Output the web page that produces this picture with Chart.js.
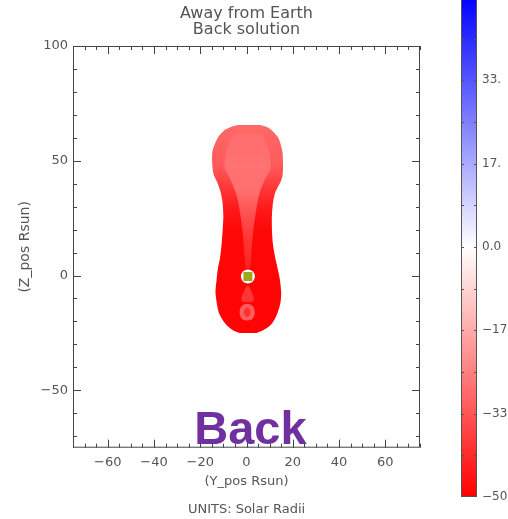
<!DOCTYPE html>
<html>
<head>
<meta charset="utf-8">
<script src="https://cdn.jsdelivr.net/npm/chart.js@4"></script>
<style>
  body { margin: 0; background: #fff; overflow: hidden; }
  #wrap { position: relative; width: 508px; height: 519px; }
  #main { position: absolute; left: 0; top: 0; }
  #cbar { position: absolute; left: 440px; top: -20px; }
</style>
</head>
<body>
<div id="wrap">
  <canvas id="main" width="508" height="519" style="width:508px;height:519px"></canvas>
  <canvas id="cbar" width="68" height="539" style="width:68px;height:539px"></canvas>
</div>
<script>
const titleLines = ['Away from Earth', 'Back solution'];
const xTitle = '(Y_pos Rsun)';
const yTitle = '(Z_pos Rsun)';
const unitsLabel = 'UNITS: Solar Radii';
const backLabel = 'Back';

const xTickValues = [-60, -40, -20, 0, 20, 40, 60];
const yTickValues = [-50, 0, 50, 100];
const cbTickValues = [-50, -33.33, -16.67, 0, 16.67, 33.33, 50];
const cbTickLabels = ['\u221250', '\u221233', '\u221217', '0.0', '17.', '33.', '50.'];

// edge of the red region (Z in Rsun, left / right edge in Y)
const shapeZ     = [65.6, 64.7, 63.0, 59.9, 54.2, 48.1, 43.7, 40.8, 36.4, 32.1, 26.2, 19.7, 13.1, 7.3, 2.9, -1.5, -7.3, -11.7, -16.1, -19.7, -21.9, -24.1, -25.0];
const shapeLeft  = [-3.9, -6.8, -9.9, -12.5, -14.7, -14.8, -14.1, -12.7, -11.2, -10.4, -10.0, -10.3, -10.8, -11.5, -12.4, -12.9, -13.4, -12.9, -12.0, -10.1, -8.3, -5.5, -3.0];
const shapeRight = [6.0, 8.8, 11.2, 13.8, 15.5, 15.8, 15.6, 14.7, 12.5, 11.5, 11.0, 11.0, 11.5, 12.5, 13.5, 14.4, 15.0, 14.7, 13.5, 11.8, 10.1, 6.8, 4.5];

// lighter streak running down from the bulb to the sun
const tailZ     = [62, 55, 47, 42, 37, 32, 26, 20, 14, 8, 3];
const tailLeft  = [-5.5, -8.5, -9.5, -7.0, -5.0, -3.6, -2.6, -1.8, -1.2, -0.8, -0.4];
const tailRight = [6.5, 9.5, 10.5, 8.0, 6.0, 4.8, 3.8, 3.0, 2.4, 2.0, 1.6];

// small features below the sun
const bellZ     = [-4.5, -6.5, -8.5, -10.5, -11.5];
const bellLeft  = [0.0, -0.9, -1.8, -2.2, -1.5];
const bellRight = [1.0, 1.9, 2.8, 3.2, 2.5];
const ovalZ     = [-12.2, -13.0, -14.3, -16.0, -17.7, -19.0, -19.7];
const ovalLeft  = [0.3, -1.8, -2.7, -3.0, -2.7, -1.8, 0.3];
const ovalRight = [0.3, 2.4, 3.3, 3.6, 3.3, 2.4, 0.3];
const coreZ     = [-13.8, -14.8, -16.0, -17.2, -18.2];
const coreLeft  = [0.3, -0.8, -1.1, -0.8, 0.3];
const coreRight = [0.3, 1.4, 1.7, 1.4, 0.3];

const sunY = [0.6];
const sunZ = [-0.4];

const pts = (zs, ys) => zs.map((z, i) => ({ x: ys[i], y: z }));

function vGradient(chart, stops) {
  const { ctx, chartArea, scales } = chart;
  if (!chartArea) return stops[stops.length - 1][1];
  const y0 = scales.y.getPixelForValue(stops[0][0]);
  const y1 = scales.y.getPixelForValue(stops[stops.length - 1][0]);
  const g = ctx.createLinearGradient(0, y0, 0, y1);
  stops.forEach(([z, c]) => g.addColorStop((scales.y.getPixelForValue(z) - y0) / (y1 - y0), c));
  return g;
}

const shapeStops = [[66, 'rgb(255,105,105)'], [48, 'rgb(255,90,90)'], [38, 'rgb(255,55,55)'], [28, 'rgb(255,22,22)'], [20, 'rgb(255,8,8)'], [-25, 'rgb(255,4,4)']];
const tailStops = [[62, 'rgba(255,150,150,0.15)'], [48, 'rgba(255,160,160,0.35)'], [38, 'rgba(255,160,160,0.55)'], [25, 'rgba(255,150,150,0.45)'], [12, 'rgba(255,140,140,0.3)'], [3, 'rgba(255,140,140,0.2)']];

const edge = (zs, ys, extra) => Object.assign({
  data: pts(zs, ys), borderColor: 'rgba(0,0,0,0)', borderWidth: 0,
  pointRadius: 0, fill: false, tension: 0.25
}, extra);

const textColor = '#555';
const font13 = { family: 'DejaVu Sans', size: 13 };

const boxTicks = {
  id: 'boxTicks',
  afterDatasetsDraw(chart) {
    const { ctx, chartArea: a, scales: { x, y } } = chart;
    ctx.save();
    ctx.strokeStyle = '#444';
    ctx.lineWidth = 1;
    ctx.strokeRect(a.left + 0.5, a.top + 0.5, a.right - a.left - 1, a.bottom - a.top - 1);
    ctx.beginPath();
    for (let v = -75; v <= 75; v += 5) {
      const len = xTickValues.includes(v) ? 8 : 4;
      const px = Math.round(x.getPixelForValue(v)) + 0.5;
      ctx.moveTo(px, a.bottom); ctx.lineTo(px, a.bottom - len);
      ctx.moveTo(px, a.top); ctx.lineTo(px, a.top + len);
    }
    for (let v = -70; v <= 100; v += 10) {
      const len = yTickValues.includes(v) ? 8 : 4;
      const py = Math.round(y.getPixelForValue(v)) + 0.5;
      ctx.moveTo(a.left, py); ctx.lineTo(a.left + len, py);
      ctx.moveTo(a.right, py); ctx.lineTo(a.right - len, py);
    }
    ctx.stroke();
    // big label inside the plot
    ctx.fillStyle = '#7030a0';
    ctx.font = 'bold 47px "Liberation Sans", Arial, sans-serif';
    ctx.textAlign = 'center';
    ctx.textBaseline = 'alphabetic';
    ctx.fillText(backLabel, x.getPixelForValue(1.7), y.getPixelForValue(-73.5));
    ctx.restore();
  }
};

new Chart(document.getElementById('main'), {
  type: 'line',
  data: {
    datasets: [
      edge(shapeZ, shapeLeft, { order: 10 }),
      edge(shapeZ, shapeRight, { order: 10, fill: '-1', backgroundColor: c => vGradient(c.chart, shapeStops) }),
      edge(tailZ, tailLeft, { order: 8 }),
      edge(tailZ, tailRight, { order: 8, fill: '-1', backgroundColor: c => vGradient(c.chart, tailStops) }),
      edge(bellZ, bellLeft, { order: 7 }),
      edge(bellZ, bellRight, { order: 7, fill: '-1', backgroundColor: 'rgba(255,140,140,0.35)' }),
      edge(ovalZ, ovalLeft, { order: 6 }),
      edge(ovalZ, ovalRight, { order: 6, fill: '-1', backgroundColor: 'rgba(255,140,140,0.65)' }),
      edge(coreZ, coreLeft, { order: 5 }),
      edge(coreZ, coreRight, { order: 5, fill: '-1', backgroundColor: 'rgba(255,40,40,0.85)' }),
      { data: pts(sunZ, sunY), showLine: false, pointRadius: 7, pointBackgroundColor: '#fff', pointBorderWidth: 0, order: 2 },
      { data: pts(sunZ, sunY), showLine: false, pointStyle: 'rect', pointRadius: 6.4, pointBackgroundColor: '#a0a820', pointBorderWidth: 0, order: 1 }
    ]
  },
  options: {
    responsive: false,
    animation: false,
    indexAxis: 'y',
    layout: { padding: { left: 0, right: 88, top: 0, bottom: 0 } },
    plugins: {
      legend: { display: false },
      tooltip: { enabled: false },
      title: {
        display: true, text: titleLines, fullSize: false, color: textColor,
        font: { family: 'DejaVu Sans', size: 16, weight: 'normal', lineHeight: 1.0 },
        padding: { top: 6, bottom: 8 }
      },
      subtitle: {
        display: true, text: unitsLabel, position: 'bottom', fullSize: false, color: textColor,
        font: { family: 'DejaVu Sans', size: 13, weight: 'normal', lineHeight: 1.1 },
        padding: { top: 5, bottom: 2 }
      }
    },
    scales: {
      x: {
        type: 'linear', min: -75, max: 75,
        grid: { display: false, drawTicks: false },
        border: { display: false },
        afterBuildTicks: s => { s.ticks = xTickValues.map(v => ({ value: v })); },
        afterFit: s => { s.height = 50; },
        ticks: { autoSkip: false, maxRotation: 0, padding: 7, color: textColor, font: font13,
          callback: v => String(v).replace('-', '\u2212') },
        title: { display: true, text: xTitle, color: textColor, font: font13, padding: { top: 0, bottom: 8 } }
      },
      y: {
        type: 'linear', min: -75, max: 100,
        grid: { display: false, drawTicks: false },
        border: { display: false },
        afterBuildTicks: s => { s.ticks = yTickValues.map(v => ({ value: v })); },
        afterFit: s => { s.width = 73; },
        ticks: { autoSkip: false, padding: 5, color: textColor, font: font13,
          callback: v => String(v).replace('-', '\u2212') },
        title: { display: true, text: yTitle, color: textColor, font: { family: 'DejaVu Sans', size: 14 }, padding: { top: 17, bottom: 0 } }
      }
    }
  },
  plugins: [boxTicks]
});

// colour bar
const cbStops = [[-50, 'rgb(255,0,0)'], [0, 'rgb(255,255,255)'], [50, 'rgb(0,0,255)']];

const cbTicks = {
  id: 'cbTicks',
  afterDatasetsDraw(chart) {
    const { ctx, chartArea: a, scales: { y } } = chart;
    ctx.save();
    ctx.strokeStyle = '#555';
    ctx.lineWidth = 1;
    ctx.strokeRect(a.left + 0.5, a.top + 0.5, a.right - a.left - 1, a.bottom - a.top - 1);
    ctx.beginPath();
    for (let i = 1; i < 12; i++) {
      const py = Math.round(y.getPixelForValue(-50 + i * 100 / 12)) + 0.5;
      ctx.moveTo(a.left, py); ctx.lineTo(a.left + 3, py);
      ctx.moveTo(a.right, py); ctx.lineTo(a.right - 3, py);
    }
    ctx.stroke();
    ctx.restore();
  }
};

new Chart(document.getElementById('cbar'), {
  type: 'bar',
  data: {
    labels: ['c'],
    datasets: [{
      data: [[-50, 50]],
      barPercentage: 1, categoryPercentage: 1, borderWidth: 0,
      backgroundColor: c => {
        const { ctx, chartArea, scales } = c.chart;
        if (!chartArea) return '#fff';
        const y0 = scales.y.getPixelForValue(-50), y1 = scales.y.getPixelForValue(50);
        const g = ctx.createLinearGradient(0, y0, 0, y1);
        cbStops.forEach(([v, col]) => g.addColorStop((scales.y.getPixelForValue(v) - y0) / (y1 - y0), col));
        return g;
      }
    }]
  },
  options: {
    responsive: false,
    animation: false,
    layout: { padding: { left: 21, right: 0, top: 17, bottom: 22 } },
    plugins: { legend: { display: false }, tooltip: { enabled: false } },
    scales: {
      x: { display: false },
      y: {
        position: 'right', min: -50, max: 50,
        grid: { display: false, drawTicks: false },
        border: { display: false },
        afterBuildTicks: s => { s.ticks = cbTickValues.map(v => ({ value: v })); },
        afterFit: s => { s.width = 31; },
        ticks: { autoSkip: false, padding: 5, color: textColor, font: { family: 'DejaVu Sans', size: 12 },
          callback: (v, i) => cbTickLabels[i] }
      }
    }
  },
  plugins: [cbTicks]
});
</script>
</body>
</html>
